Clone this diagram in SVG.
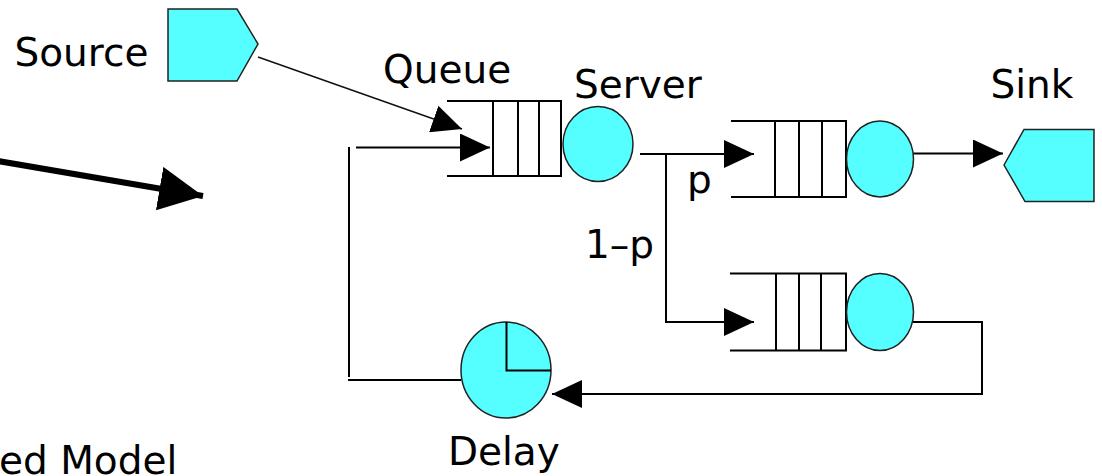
<svg xmlns="http://www.w3.org/2000/svg" width="1102" height="476" viewBox="0 0 1102 476">
<defs>
<style>
.t{font-family:"DejaVu Sans","Liberation Sans",sans-serif;font-size:39px;fill:#000}
.cy{fill:#55ffff;stroke:#222;stroke-width:1.5}
.q{fill:none;stroke:#000;stroke-width:2}
.c{fill:none;stroke:#000;stroke-width:2}
.thin{fill:none;stroke:#111;stroke-width:1.5}
</style>
<marker id="ah" markerUnits="userSpaceOnUse" markerWidth="30" markerHeight="28" refX="30" refY="14" orient="auto"><path d="M0,0 L30,14 L0,28 z" fill="#000"/></marker>
<marker id="big" markerUnits="userSpaceOnUse" markerWidth="44" markerHeight="44" refX="44" refY="22" orient="auto"><path d="M0,0 L44,22 L0,44 z" fill="#000"/></marker>
</defs>
<rect width="1102" height="476" fill="#fff"/>
<g id="connectors">
<path class="thin" d="M258,57 L462,129" marker-end="url(#ah)"/>
<path class="c" d="M356,147.5 H490" marker-end="url(#ah)"/>
<path class="c" d="M349,147 V377"/>
<path class="c" d="M348,380 H461"/>
<path class="c" d="M640,154 H754" marker-end="url(#ah)"/>
<path class="c" d="M666,154 V322 H754" marker-end="url(#ah)"/>
<path class="c" d="M913,153.5 H1003" marker-end="url(#ah)"/>
<path class="c" d="M913,322 H982 V394 H552" marker-end="url(#ah)"/>
<path fill="none" stroke="#000" stroke-width="6" d="M-2,161 L203,196" marker-end="url(#big)"/>
</g>
<g id="source">
<polygon class="cy" points="168,9 237,9 258,44 237,81 168,81"/>
<text class="t" x="14.5" y="66">Source</text>
</g>
<g id="queue1">
<path class="q" d="M447,101 H561 V176 H447 M493,101 V176 M518,101 V176 M539,101 V176"/>
<text class="t" x="383" y="83">Queue</text>
</g>
<g id="server1">
<ellipse class="cy" cx="598" cy="144" rx="35" ry="37.5"/>
<text class="t" x="574" y="98">Server</text>
</g>
<g id="queue2">
<path class="q" d="M731,121 H846 V197 H731 M775,121 V197 M799,121 V197 M822,121 V197"/>
</g>
<g id="server2">
<ellipse class="cy" cx="880" cy="159" rx="33.5" ry="38"/>
</g>
<g id="sink">
<polygon class="cy" points="1004,165 1024,129.5 1094,129.5 1094,201.5 1025,201.5"/>
<text class="t" x="990.5" y="98">Sink</text>
</g>
<g id="queue3">
<path class="q" d="M730,273.5 H846 V350.5 H730 M776,273.5 V350.5 M799,273.5 V350.5 M821,273.5 V350.5"/>
</g>
<g id="server3">
<ellipse class="cy" cx="880" cy="312" rx="33.5" ry="38.5"/>
</g>
<g id="delay">
<ellipse class="cy" cx="506" cy="370" rx="45" ry="48"/>
<path class="c" d="M506.5,322 V370.5 H551"/>
<text class="t" x="448" y="465">Delay</text>
</g>
<g id="labels">
<text class="t" x="687" y="193">p</text>
<text class="t" x="654" y="258" text-anchor="end">1–p</text>
<text class="t" x="-1" y="474">ed Model</text>
</g>
</svg>
